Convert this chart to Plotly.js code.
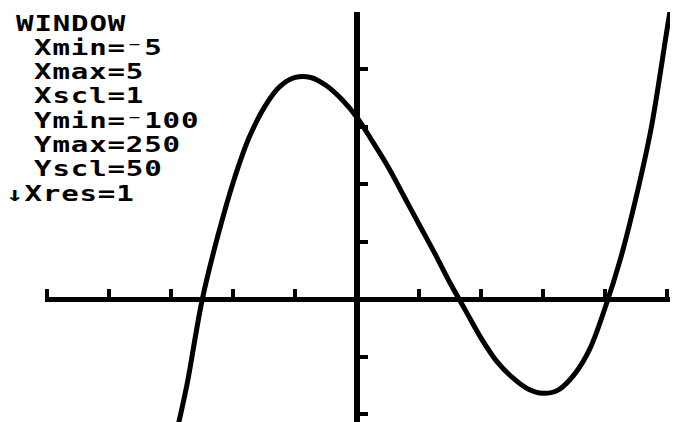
<!DOCTYPE html>
<html>
<head>
<meta charset="utf-8">
<script src="https://cdn.plot.ly/plotly-3.0.1.min.js"></script>
<style>
  html, body { margin: 0; padding: 0; background: #fff; }
  #chart { width: 676px; height: 422px; }
  .annotation-text { letter-spacing: 0.6px; }
</style>
</head>
<body>
<div id="chart"></div>
<script>
// Curve values
const xValues = [-2.9, -2.75, -2.5, -2.25, -2, -1.75, -1.5, -1.25, -1, -0.75, -0.5, -0.25, 0,
                 0.25, 0.5, 0.75, 1, 1.25, 1.5, 1.75, 2, 2.25, 2.5, 2.75, 3, 3.25, 3.5, 3.75,
                 4, 4.25, 4.5, 4.75, 5.05, 5.1];
const yValues = [-112, -75, 0, 55, 102, 140, 167, 185, 193, 193, 186, 174, 158,
                 137, 115, 90, 65, 40, 14, -10, -34, -54, -68, -78, -82, -79, -66, -44,
                 -8, 35, 88, 150, 250, 262];

// Window settings
const xMin = -5, xMax = 5, xScl = 1;
const yMin = -100, yMax = 250, yScl = 50;

// Window screen text
const windowLines = ["WINDOW", "Xmin=\u207B5", "Xmax=5", "Xscl=1", "Ymin=\u207B100", "Ymax=250", "Yscl=50", "\u2193Xres=1"];
const lineX = [15, 33, 33, 33, 33, 33, 33, 5];
const lineY = [23.5, 47.8, 72.1, 96.4, 120.7, 145, 169.3, 193.6];

const W = 676, H = 422;
const m = { l: 45, r: 6, t: 12, b: 0 };
const xr = [-5.04, 5.05];
const yr = [-107, 250];
const plotW = W - m.l - m.r, plotH = H - m.t - m.b;

const annotations = windowLines.map((t, i) => ({
  text: t,
  xref: 'paper', yref: 'paper',
  x: (lineX[i] - m.l) / plotW,
  y: 1 - (lineY[i] - m.t) / plotH,
  xanchor: 'left', yanchor: 'middle',
  borderpad: 0,
  showarrow: false,
  font: { family: 'DejaVu Sans Mono', size: 20.5, color: '#000', weight: 'bold' }
}));

const trace = {
  x: xValues, y: yValues,
  type: 'scatter', mode: 'lines',
  line: { color: '#000', width: 5, shape: 'spline' },
  hoverinfo: 'skip'
};

const layout = {
  width: W, height: H,
  margin: { l: m.l, r: m.r, t: m.t, b: m.b, pad: 0 },
  paper_bgcolor: '#fff', plot_bgcolor: '#fff',
  showlegend: false,
  xaxis: {
    range: xr, anchor: 'free', position: (0 - yr[0]) / (yr[1] - yr[0]),
    showline: true, linewidth: 5, linecolor: '#000',
    ticks: 'inside', ticklen: 8, tickwidth: 4, tickcolor: '#000',
    tick0: 0, dtick: xScl,
    showticklabels: false, showgrid: false, zeroline: false, fixedrange: true
  },
  yaxis: {
    range: yr, anchor: 'free', position: (0 - xr[0]) / (xr[1] - xr[0]),
    showline: true, linewidth: 6, linecolor: '#000',
    ticks: 'inside', ticklen: 8, tickwidth: 4, tickcolor: '#000',
    tick0: 0, dtick: yScl,
    showticklabels: false, showgrid: false, zeroline: false, fixedrange: true
  },
  annotations: annotations
};

Plotly.newPlot('chart', [trace], layout, { staticPlot: true, displayModeBar: false }).then(() => {
  // widen the glyphs horizontally, like the calculator's pixel font
  document.querySelectorAll('#chart .annotation-text').forEach(t => {
    const bb = t.getBBox();
    const x0 = bb.x;
    const prev = t.getAttribute('transform') || '';
    t.setAttribute('transform', prev + ` translate(${x0},0) scale(1.42,1) translate(${-x0},0)`);
  });
});
</script>
</body>
</html>
